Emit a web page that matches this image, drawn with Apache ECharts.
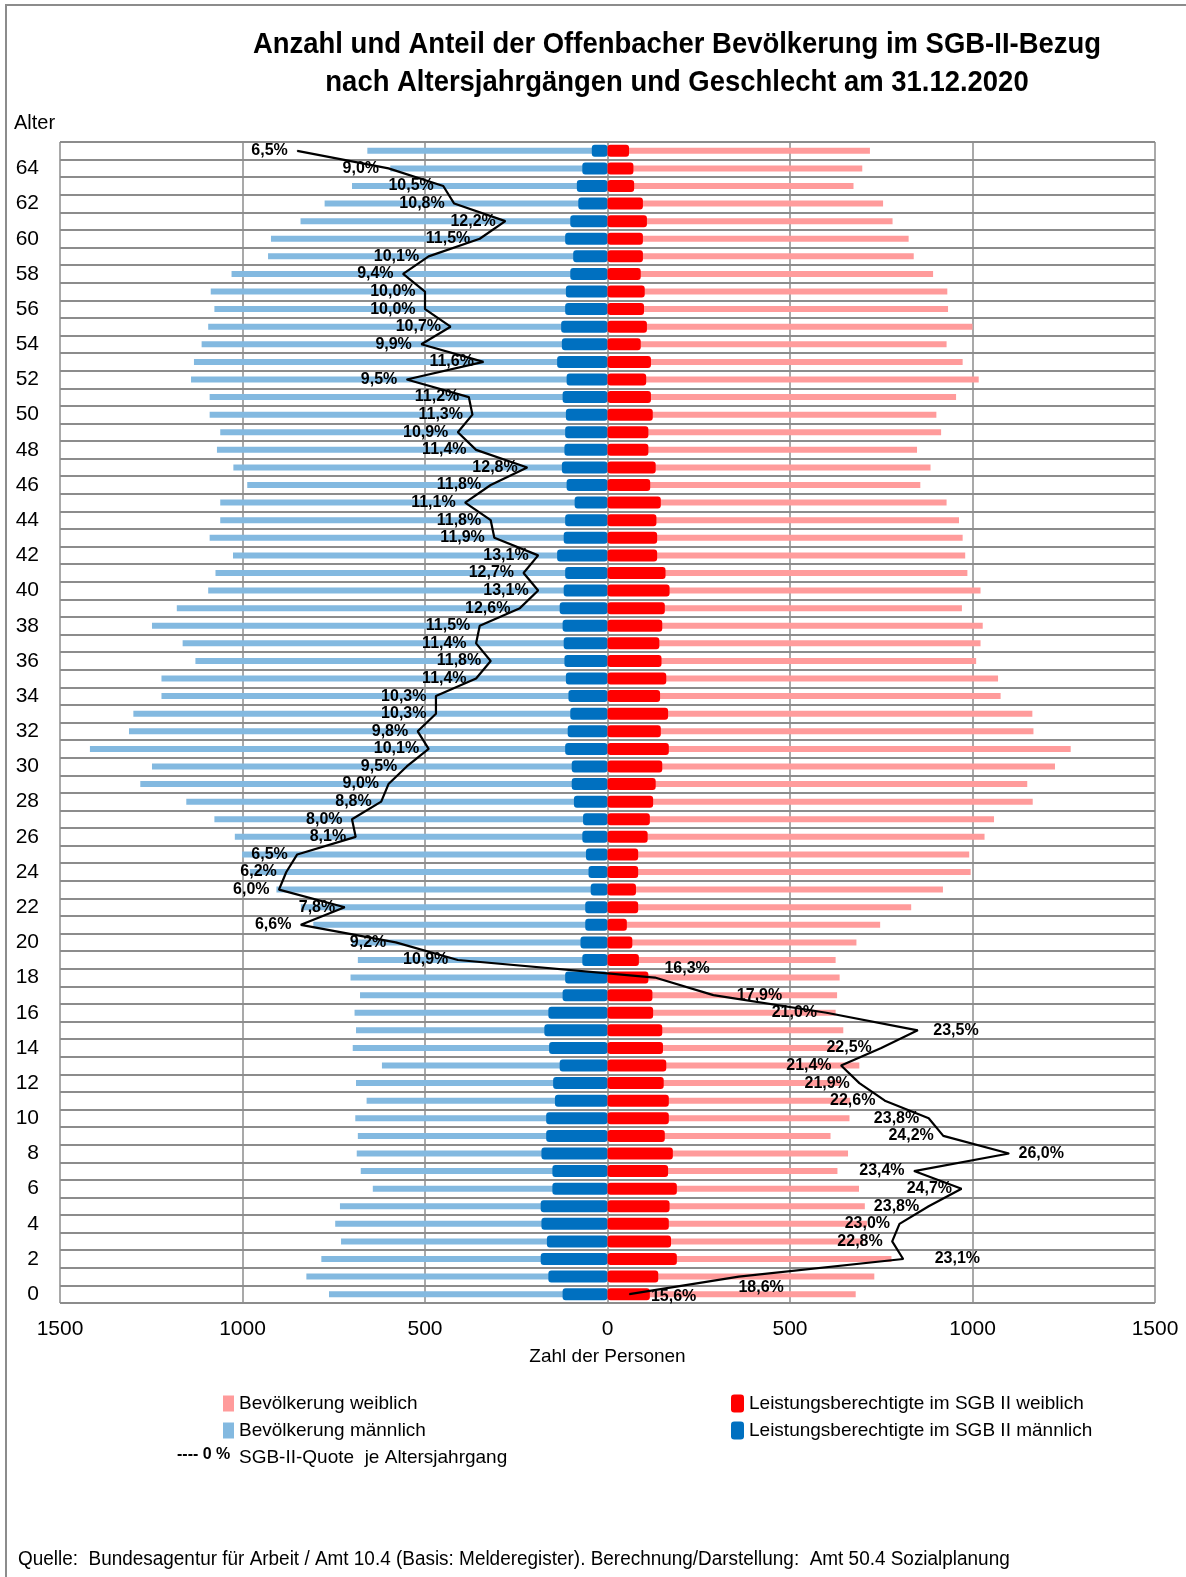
<!DOCTYPE html>
<html>
<head>
<meta charset="utf-8">
<script src="https://cdn.jsdelivr.net/npm/echarts@6/dist/echarts.min.js"></script>
<style>
  html, body { margin: 0; padding: 0; background: #fff; }
  #chart { width: 1186px; height: 1577px; }
</style>
</head>
<body>
<div id="chart"></div>
<script>
// Altersjahrgänge 0 bis 65
const ages = Array.from({ length: 66 }, (_, i) => String(i))

// Bevölkerung männlich (Alter 0..65)
const popMale = [763, 825, 784, 730, 746, 733, 643, 676, 687, 684, 691, 660, 689, 618, 698, 689,
  693, 678, 704, 684, 700, 806, 840, 907, 980, 1001, 1021, 1077, 1154, 1280, 1248, 1418, 1311,
  1299, 1222, 1222, 1129, 1164, 1248, 1180, 1094, 1074, 1026, 1090, 1061, 1061, 987, 1025, 1070,
  1061, 1090, 1090, 1141, 1133, 1112, 1094, 1077, 1087, 1030, 930, 922, 841, 775, 700, 595, 658]

// Bevölkerung weiblich (Alter 0..65)
const popFemale = [680, 731, 778, 700, 711, 705, 689, 630, 659, 611, 663, 665, 640, 690, 633, 646,
  625, 629, 636, 625, 682, 747, 832, 919, 995, 991, 1033, 1059, 1165, 1150, 1226, 1269, 1167,
  1164, 1077, 1070, 1010, 1022, 1028, 971, 1022, 986, 980, 973, 963, 929, 857, 885, 848,
  914, 901, 955, 1017, 973, 929, 1000, 933, 931, 892, 839, 825, 781, 755, 674, 698, 719]

// Leistungsberechtigte im SGB II männlich
const sgbMale = [123, 162, 183, 166, 181, 183, 151, 151, 181, 168, 168, 144, 149, 131, 160, 173,
  162, 123, 116, 69, 74, 61, 61, 46, 52, 59, 69, 67, 92, 98, 98, 116, 109,
  102, 107, 114, 118, 120, 123, 131, 120, 116, 138, 120, 116, 90, 112, 125, 118,
  116, 114, 123, 112, 138, 125, 127, 116, 114, 102, 94, 116, 102, 80, 84, 69, 43]

// Leistungsberechtigte im SGB II weiblich
const sgbFemale = [116, 139, 190, 174, 168, 170, 190, 166, 179, 157, 168, 168, 154, 161, 152, 150,
  125, 123, 112, 86, 68, 53, 84, 78, 84, 84, 110, 116, 125, 132, 150, 168, 146,
  166, 144, 161, 148, 142, 150, 157, 170, 159, 136, 136, 134, 146, 117, 132, 112,
  112, 124, 119, 106, 119, 91, 108, 100, 102, 91, 97, 97, 108, 97, 73, 71, 59]

// SGB-II-Quote je Altersjahrgang in %
const quote = [15.6, 18.6, 23.1, 22.8, 23.0, 23.8, 24.7, 23.4, 26.0, 24.2, 23.8, 22.6, 21.9, 21.4, 22.5, 23.5,
  21.0, 17.9, 16.3, 10.9, 9.2, 6.6, 7.8, 6.0, 6.2, 6.5, 8.1, 8.0, 8.8, 9.0, 9.5, 10.1, 9.8,
  10.3, 10.3, 11.4, 11.8, 11.4, 11.5, 12.6, 13.1, 12.7, 13.1, 11.9, 11.8, 11.1, 11.8, 12.8, 11.4,
  10.9, 11.3, 11.2, 9.5, 11.6, 9.9, 10.7, 10.0, 10.0, 9.4, 10.1, 11.5, 12.2, 10.8, 10.5, 9.0, 6.5]

// Beschriftungen rechts vom Punkt (Alter -> Versatz)
const rightLabels = { 0: [12, 2], 1: [-10, 11], 2: [22, 0], 8: [0, 0], 15: [6, 0], 17: [14, 0], 18: [0, -9] }

const titleLines = [
  'Anzahl und Anteil der Offenbacher Bevölkerung im SGB-II-Bezug',
  'nach Altersjahrgängen und Geschlecht am 31.12.2020'
]

const FONT = "'Liberation Sans Narrow', 'Arial Narrow', 'Liberation Sans', Arial, sans-serif"
const GRID_COLOR = '#8c8c8c'

const chart = echarts.init(document.getElementById('chart'))

const quoteData = quote.map((q, i) => {
  const item = { value: q }
  if (rightLabels[i]) {
    item.label = { position: 'right', offset: rightLabels[i] }
  }
  return item
})

const option = {
  animation: false,
  backgroundColor: '#fff',
  textStyle: { fontFamily: FONT },
  legend: [
    {
      orient: 'vertical',
      left: 218,
      top: 1389,
      itemWidth: 11,
      itemHeight: 16,
      itemGap: 8,
      textStyle: { fontFamily: FONT, fontSize: 19, color: '#000' },
      data: [
        { name: 'Bevölkerung weiblich', icon: 'rect' },
        { name: 'Bevölkerung männlich', icon: 'rect' },
        { name: 'SGB-II-Quote  je Altersjahrgang', icon: 'rect', itemStyle: { opacity: 0 }, lineStyle: { opacity: 0 } }
      ]
    },
    {
      orient: 'vertical',
      left: 726,
      top: 1389,
      itemWidth: 13,
      itemHeight: 18,
      itemGap: 8,
      textStyle: { fontFamily: FONT, fontSize: 19, color: '#000' },
      data: [
        { name: 'Leistungsberechtigte im SGB II weiblich', icon: 'roundRect' },
        { name: 'Leistungsberechtigte im SGB II männlich', icon: 'roundRect' }
      ]
    }
  ],
  grid: { left: 60, right: 31, top: 142, bottom: 274 },
  xAxis: [
    {
      type: 'value',
      min: -1500,
      max: 1500,
      interval: 500,
      name: 'Zahl der Personen',
      nameLocation: 'middle',
      nameGap: 44,
      nameTextStyle: { fontFamily: FONT, fontSize: 19, color: '#000' },
      axisLine: { show: false },
      axisTick: { show: false },
      axisLabel: {
        fontFamily: FONT,
        fontSize: 21,
        color: '#000',
        margin: 16,
        formatter: v => String(Math.abs(v))
      },
      splitLine: { show: true, lineStyle: { color: GRID_COLOR, width: 1.5 } }
    },
    {
      type: 'value',
      min: 0,
      max: 30,
      show: false
    }
  ],
  yAxis: [
    {
      type: 'category',
      data: ages,
      axisLine: { show: false },
      axisTick: { show: false },
      axisLabel: { fontFamily: FONT, fontSize: 21, color: '#000', interval: 1, margin: 21 },
      splitLine: { show: true, interval: 0, lineStyle: { color: GRID_COLOR, width: 2 } }
    },
    {
      type: 'category',
      data: ages,
      show: false
    }
  ],
  series: [
    {
      name: 'Bevölkerung männlich',
      type: 'bar',
      stack: 'pop',
      barWidth: 6,
      xAxisIndex: 0,
      yAxisIndex: 0,
      itemStyle: { color: '#83B9E0' },
      data: popMale.map(v => -v)
    },
    {
      name: 'Bevölkerung weiblich',
      type: 'bar',
      stack: 'pop',
      barWidth: 6,
      xAxisIndex: 0,
      yAxisIndex: 0,
      itemStyle: { color: '#FF9B9B' },
      data: popFemale
    },
    {
      name: 'Leistungsberechtigte im SGB II männlich',
      type: 'bar',
      stack: 'sgb',
      barWidth: 12,
      xAxisIndex: 0,
      yAxisIndex: 1,
      z: 3,
      itemStyle: { color: '#0070C0', borderRadius: 3 },
      data: sgbMale.map(v => -v)
    },
    {
      name: 'Leistungsberechtigte im SGB II weiblich',
      type: 'bar',
      stack: 'sgb',
      barWidth: 12,
      xAxisIndex: 0,
      yAxisIndex: 1,
      z: 3,
      itemStyle: { color: '#FF0000', borderRadius: 3 },
      data: sgbFemale
    },
    {
      name: 'SGB-II-Quote  je Altersjahrgang',
      type: 'line',
      xAxisIndex: 1,
      yAxisIndex: 0,
      z: 5,
      symbol: 'circle',
      symbolSize: 1,
      itemStyle: { color: '#000' },
      lineStyle: { color: '#000', width: 2.2 },
      label: {
        show: true,
        position: 'left',
        distance: 9,
        fontFamily: FONT,
        fontSize: 16,
        fontWeight: 'bold',
        color: '#000',
        formatter: p => p.value.toFixed(1).replace('.', ',') + '%'
      },
      data: quoteData
    }
  ],
  graphic: [
    {
      type: 'rect',
      shape: { x: 6, y: 5, width: 1300, height: 1620 },
      style: { fill: 'none', stroke: '#8c8c8c', lineWidth: 2 },
      silent: true
    },
    {
      type: 'text',
      x: 677,
      y: 45,
      scaleX: 0.915,
      style: {
        text: titleLines[0], fontFamily: FONT, fontSize: 30, fontWeight: 'bold', fill: '#000',
        align: 'center', verticalAlign: 'middle'
      }
    },
    {
      type: 'text',
      x: 677,
      y: 83,
      scaleX: 0.915,
      style: {
        text: titleLines[1], fontFamily: FONT, fontSize: 30, fontWeight: 'bold', fill: '#000',
        align: 'center', verticalAlign: 'middle'
      }
    },
    {
      type: 'text',
      left: 14,
      top: 113,
      style: { text: 'Alter', fontFamily: FONT, fontSize: 20, fill: '#000' }
    },
    {
      type: 'text',
      left: 177,
      top: 1447,
      style: { text: '---- 0 %', fontFamily: FONT, fontSize: 16, fontWeight: 'bold', fill: '#000' }
    },
    {
      type: 'text',
      x: 18,
      y: 1559,
      scaleX: 0.947,
      style: {
        text: 'Quelle:  Bundesagentur für Arbeit / Amt 10.4 (Basis: Melderegister). Berechnung/Darstellung:  Amt 50.4 Sozialplanung',
        fontFamily: FONT,
        fontSize: 20,
        fill: '#000',
        align: 'left',
        verticalAlign: 'middle'
      }
    }
  ]
}

chart.setOption(option)
</script>
</body>
</html>
